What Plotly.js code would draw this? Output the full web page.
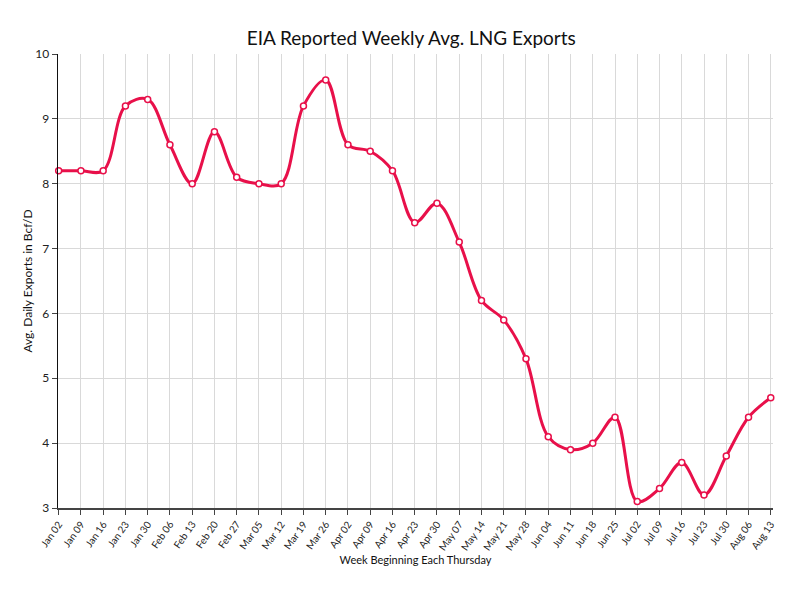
<!DOCTYPE html>
<html><head><meta charset="utf-8">
<script src="https://cdn.plot.ly/plotly-3.0.1.min.js"></script>
<style>html,body{margin:0;padding:0;background:#fff}#chart{width:797px;height:589px}</style>
</head><body><div id="chart"></div>
<script>
const weeks = ["Jan 02","Jan 09","Jan 16","Jan 23","Jan 30","Feb 06","Feb 13","Feb 20","Feb 27","Mar 05","Mar 12","Mar 19","Mar 26","Apr 02","Apr 09","Apr 16","Apr 23","Apr 30","May 07","May 14","May 21","May 28","Jun 04","Jun 11","Jun 18","Jun 25","Jul 02","Jul 09","Jul 16","Jul 23","Jul 30","Aug 06","Aug 13"];
const exportsBcf = [8.2,8.2,8.2,9.2,9.3,8.6,8.0,8.8,8.1,8.0,8.0,9.2,9.6,8.6,8.5,8.2,7.4,7.7,7.1,6.2,5.9,5.3,4.1,3.9,4.0,4.4,3.1,3.3,3.7,3.2,3.8,4.4,4.7];
const yTicks = [3,4,5,6,7,8,9,10];

const trace = {
  x: weeks.map((_, i) => i),
  y: exportsBcf,
  type: 'scatter',
  mode: 'lines+markers',
  line: {color: '#E8104A', width: 3, shape: 'spline', smoothing: 1},
  marker: {color: '#ffffff', size: 6, line: {color: '#E8104A', width: 1.5}},
  cliponaxis: false,
  hoverinfo: 'skip'
};
const font = "Lato, 'Open Sans', sans-serif";
const layout = {
  width: 797, height: 589,
  paper_bgcolor: '#fff', plot_bgcolor: '#fff',
  margin: {l: 58, r: 24, t: 54, b: 81},
  showlegend: false,
  font: {family: font, color: '#222'},
  title: {text: 'EIA Reported Weekly Avg. LNG Exports', font: {size: 19, family: font, color: '#111'}, x: 0.516, xanchor: 'center', y: 0.935, yanchor: 'middle'},
  xaxis: {
    range: [-0.03, 32.1],
    tickmode: 'array', tickvals: weeks.map((_, i) => i), ticktext: weeks,
    tickangle: -55, tickfont: {size: 10, family: font, color: '#222'},
    showgrid: true, gridcolor: '#d9d9d9', gridwidth: 1,
    showline: true, linecolor: '#444', linewidth: 1.5,
    ticks: 'outside', ticklen: 5, tickcolor: '#444',
    zeroline: false,
    title: {text: 'Week Beginning Each Thursday', font: {size: 11, family: font, color: '#111'}, standoff: 1}
  },
  yaxis: {
    range: [3, 10],
    tickmode: 'array', tickvals: yTicks,
    tickfont: {size: 12, family: font, color: '#222'},
    showgrid: true, gridcolor: '#d9d9d9', gridwidth: 1,
    showline: true, linecolor: '#111', linewidth: 1.5,
    ticks: 'outside', ticklen: 5, tickcolor: '#444',
    zeroline: false,
    title: {text: 'Avg. Daily Exports in Bcf/D', font: {size: 12, family: font, color: '#111'}, standoff: 0}
  }
};
Plotly.newPlot('chart', [trace], layout, {staticPlot: true, displayModeBar: false});
</script></body></html>
